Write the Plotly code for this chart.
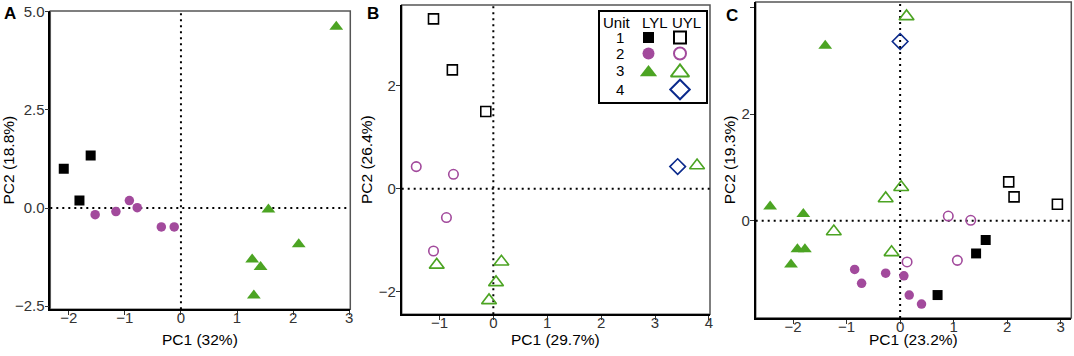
import plotly.graph_objects as go

# ---------------- data ----------------
# Panel A (LYL only)
A_LYL_U1_PC1 = [-2.09, -1.61, -1.81]
A_LYL_U1_PC2 = [1.00, 1.34, 0.19]
A_LYL_U2_PC1 = [-1.53, -1.16, -0.92, -0.78, -0.35, -0.12]
A_LYL_U2_PC2 = [-0.17, -0.09, 0.19, 0.01, -0.48, -0.48]
A_LYL_U3_PC1 = [2.77, 1.56, 2.10, 1.27, 1.42, 1.30]
A_LYL_U3_PC2 = [4.62, -0.04, -0.92, -1.31, -1.50, -2.23]

# Panel B (UYL only)
B_UYL_U1_PC1 = [-1.11, -0.76, -0.14]
B_UYL_U1_PC2 = [3.30, 2.31, 1.50]
B_UYL_U2_PC1 = [-1.43, -0.74, -0.87, -1.11]
B_UYL_U2_PC2 = [0.43, 0.28, -0.56, -1.21]
B_UYL_U3_PC1 = [-1.05, 0.15, 0.05, -0.08, 3.78]
B_UYL_U3_PC2 = [-1.48, -1.42, -1.82, -2.17, 0.45]
B_UYL_U4_PC1 = [3.42]
B_UYL_U4_PC2 = [0.43]

# Panel C (both)
C_LYL_U1_PC1 = [1.60, 1.42, 0.70]
C_LYL_U1_PC2 = [-0.36, -0.61, -1.39]
C_LYL_U2_PC1 = [-0.85, -0.72, -0.27, 0.07, 0.17, 0.40]
C_LYL_U2_PC2 = [-0.91, -1.17, -0.98, -1.03, -1.39, -1.56]
C_LYL_U3_PC1 = [-1.40, -2.43, -1.81, -1.92, -1.78, -2.04]
C_LYL_U3_PC2 = [3.28, 0.27, 0.13, -0.53, -0.53, -0.82]
C_UYL_U1_PC1 = [2.03, 2.13, 2.94]
C_UYL_U1_PC2 = [0.73, 0.45, 0.31]
C_UYL_U2_PC1 = [0.90, 1.32, 0.13, 1.07]
C_UYL_U2_PC2 = [0.09, 0.01, -0.77, -0.74]
C_UYL_U3_PC1 = [0.12, 0.02, -0.27, -1.24, -0.16]
C_UYL_U3_PC2 = [3.83, 0.63, 0.42, -0.20, -0.59]
C_UYL_U4_PC1 = [0.0]
C_UYL_U4_PC2 = [3.36]

X_TITLES = ["PC1 (32%)", "PC1 (29.7%)", "PC1 (23.2%)"]
Y_TITLES = ["PC2 (18.8%)", "PC2 (26.4%)", "PC2 (19.3%)"]
PANEL_LABELS = ["A", "B", "C"]
UNITS = ["1", "2", "3", "4"]
LEGEND_HEADERS = ["Unit", "LYL", "UYL"]

# ---------------- style ----------------
FONT = "Liberation Sans"
BLACK = "#000000"
PURPLE = "#A24A9C"
GREEN = "#4CA423"
NAVY = "#0B2A8C"

STYLE = {
    ("LYL", 1): dict(symbol="square", size=10, color=BLACK, lw=0),
    ("LYL", 2): dict(symbol="circle", size=9.5, color=PURPLE, lw=0),
    ("LYL", 3): dict(symbol="triangle-up", size=12, color=GREEN, lw=0),
    ("UYL", 1): dict(symbol="square-open", size=10, color=BLACK, lw=1.6),
    ("UYL", 2): dict(symbol="circle-open", size=9.5, color=PURPLE, lw=1.6),
    ("UYL", 3): dict(symbol="triangle-up-open", size=13, color=GREEN, lw=1.6),
    ("UYL", 4): dict(symbol="diamond-open", size=12, color=NAVY, lw=1.6),
}

fig = go.Figure()

def add(xs, ys, key, ax):
    st = STYLE[key]
    fig.add_trace(go.Scatter(
        x=xs, y=ys, mode="markers", xaxis="x" + ax, yaxis="y" + ax,
        marker=dict(symbol=st["symbol"], size=st["size"], color=st["color"],
                    line=dict(width=st["lw"], color=st["color"])),
        showlegend=False, hoverinfo="skip"))

# Panel A
add(A_LYL_U1_PC1, A_LYL_U1_PC2, ("LYL", 1), "")
add(A_LYL_U2_PC1, A_LYL_U2_PC2, ("LYL", 2), "")
add(A_LYL_U3_PC1, A_LYL_U3_PC2, ("LYL", 3), "")
# Panel B
add(B_UYL_U1_PC1, B_UYL_U1_PC2, ("UYL", 1), "2")
add(B_UYL_U2_PC1, B_UYL_U2_PC2, ("UYL", 2), "2")
add(B_UYL_U3_PC1, B_UYL_U3_PC2, ("UYL", 3), "2")
add(B_UYL_U4_PC1, B_UYL_U4_PC2, ("UYL", 4), "2")
# Panel C
add(C_LYL_U1_PC1, C_LYL_U1_PC2, ("LYL", 1), "3")
add(C_LYL_U2_PC1, C_LYL_U2_PC2, ("LYL", 2), "3")
add(C_LYL_U3_PC1, C_LYL_U3_PC2, ("LYL", 3), "3")
add(C_UYL_U1_PC1, C_UYL_U1_PC2, ("UYL", 1), "3")
add(C_UYL_U2_PC1, C_UYL_U2_PC2, ("UYL", 2), "3")
add(C_UYL_U3_PC1, C_UYL_U3_PC2, ("UYL", 3), "3")
add(C_UYL_U4_PC1, C_UYL_U4_PC2, ("UYL", 4), "3")

# ---------------- legend table (overlay axes x4/y4 in pixel units) ----------------
LEG_L, LEG_R, LEG_T, LEG_B = 599.5, 706.0, 11.7, 101.5
head_x = {"Unit": 617, "LYL": 655, "UYL": 686}
mark_x = {"LYL": 648.5, "UYL": 680}
head_y = 22.7
row_y = [37.5, 53.5, 70.5, 89.5]
LEG_SIZE = {
    ("LYL", 1): 11, ("LYL", 2): 12, ("LYL", 3): 15,
    ("UYL", 1): 12, ("UYL", 2): 12, ("UYL", 3): 16, ("UYL", 4): 15,
}
for (grp, u), sz in LEG_SIZE.items():
    st = STYLE[(grp, u)]
    fig.add_trace(go.Scatter(
        x=[mark_x[grp]], y=[row_y[u - 1] + (2 if "triangle" in st["symbol"] else 0)],
        mode="markers", xaxis="x4", yaxis="y4",
        marker=dict(symbol=st["symbol"], size=sz, color=st["color"],
                    line=dict(width=(2 if grp == "UYL" else 0), color=st["color"])),
        showlegend=False, hoverinfo="skip"))

annotations = []
for h in LEGEND_HEADERS:
    annotations.append(dict(x=head_x[h], y=head_y, xref="x4", yref="y4", text=h,
                            xanchor="center", yanchor="middle",
                            showarrow=False, font=dict(size=15, color=BLACK, family=FONT)))
for i, u in enumerate(UNITS):
    annotations.append(dict(x=620, y=row_y[i], xref="x4", yref="y4", text=u,
                            xanchor="center", yanchor="middle",
                            showarrow=False, font=dict(size=15, color=BLACK, family=FONT)))

# Panel letters
for lab, px, py in zip(PANEL_LABELS, [9.5, 372.5, 731.5], [14, 14, 15]):
    annotations.append(dict(x=px / 1074, y=1 - py / 356, xref="paper", yref="paper",
                            xanchor="center", yanchor="middle",
                            text="<b>" + lab + "</b>", showarrow=False,
                            font=dict(size=17, color=BLACK, family=FONT)))

W, H = 1074, 356
def dom_x(a, b):
    return [a / W, b / W]
def dom_y(top, bot):
    return [1 - bot / H, 1 - top / H]

# x-axis titles placed as annotations centred under each panel
for ax, title in zip(["x", "x2", "x3"], X_TITLES):
    annotations.append(dict(x=0.5, y=1 - 339.5 / H, xref=ax + " domain", yref="paper", text=title,
                            xanchor="center", yanchor="middle", showarrow=False,
                            font=dict(size=15.5, color=BLACK, family=FONT)))

tickfont = dict(size=15, color="#333333", family=FONT)
titlefont = dict(size=15.5, color=BLACK, family=FONT)

def xa(dom, rng, tv, anchor):
    return dict(domain=dom, range=rng, tickvals=tv,
                showgrid=False, zeroline=False, showline=True, linecolor=BLACK, linewidth=1.5,
                ticks="outside", ticklen=4, tickcolor="#333333", tickwidth=1.2, tickfont=tickfont,
                ticklabelstandoff=-10,
                anchor=anchor, automargin=False, fixedrange=True)

def ya(dom, rng, tv, tt, title, anchor):
    d = dict(domain=dom, range=rng, tickvals=tv, title=dict(text=title, font=titlefont, standoff=2),
             showgrid=False, zeroline=False, showline=True, linecolor=BLACK, linewidth=1.5,
             ticks="outside", ticklen=4, tickcolor="#333333", tickwidth=1.2, tickfont=tickfont,
             ticklabelstandoff=-3,
             anchor=anchor, automargin=False, fixedrange=True)
    if tt is not None:
        d["ticktext"] = tt
    return d

A_XD, A_YD = dom_x(50.3, 350.3), dom_y(11, 309.3)
B_XD, B_YD = dom_x(401.7, 710), dom_y(5, 314.3)
C_XD, C_YD = dom_x(755.7, 1071.3), dom_y(2, 318)

layout = dict(
    width=W, height=H, margin=dict(l=0, r=0, t=0, b=0),
    paper_bgcolor="white", plot_bgcolor="white",
    font=dict(family=FONT),
    xaxis=xa(A_XD, [-2.33, 3.02], [-2, -1, 0, 1, 2, 3], "y"),
    yaxis=ya(A_YD, [-2.58, 5.02], [-2.5, 0, 2.5, 5.0], ["−2.5", "0.0", "2.5", "5.0"], Y_TITLES[0], "x"),
    xaxis2=xa(B_XD, [-1.70, 4.02], [-1, 0, 1, 2, 3, 4], "y2"),
    yaxis2=ya(B_YD, [-2.44, 3.57], [-2, 0, 2], None, Y_TITLES[1], "x2"),
    xaxis3=xa(C_XD, [-2.70, 3.20], [-2, -1, 0, 1, 2, 3], "y3"),
    yaxis3=ya(C_YD, [-1.82, 4.10], [0, 2, 4], None, Y_TITLES[2], "x3"),
    xaxis4=dict(domain=dom_x(LEG_L, LEG_R), range=[LEG_L, LEG_R], anchor="y4", showgrid=False,
                zeroline=False, showticklabels=False, ticks="", showline=True, mirror=True,
                linecolor=BLACK, linewidth=1.5, fixedrange=True),
    yaxis4=dict(domain=dom_y(LEG_T, LEG_B), range=[LEG_B, LEG_T], anchor="x4", showgrid=False,
                zeroline=False, showticklabels=False, ticks="", showline=True, mirror=True,
                linecolor=BLACK, linewidth=1.5, fixedrange=True),
    annotations=annotations,
)
fig.update_layout(**layout)

DOT = "2px,4px"
shapes = []
for ax in ["", "2", "3"]:
    shapes.append(dict(type="rect", xref="x" + ax + " domain", yref="y" + ax + " domain",
                       x0=0, x1=1, y0=0, y1=1, line=dict(color="#555555", width=1.5),
                       fillcolor="rgba(0,0,0,0)", layer="below"))
    shapes.append(dict(type="line", xref="x" + ax, yref="y" + ax + " domain",
                       x0=0, x1=0, y0=0, y1=1, line=dict(color=BLACK, width=2, dash=DOT),
                       layer="below"))
    shapes.append(dict(type="line", xref="x" + ax + " domain", yref="y" + ax,
                       x0=0, x1=1, y0=0, y1=0, line=dict(color=BLACK, width=2, dash=DOT),
                       layer="below"))
shapes.append(dict(type="rect", xref="x4 domain", yref="y4 domain", x0=0, x1=1, y0=0, y1=1,
                   line=dict(width=0), fillcolor="white", layer="below"))
fig.update_layout(shapes=shapes)

fig.write_html("out.html", config={"displayModeBar": False},
               post_script="document.body.style.margin='0';document.body.style.overflow='hidden';")
